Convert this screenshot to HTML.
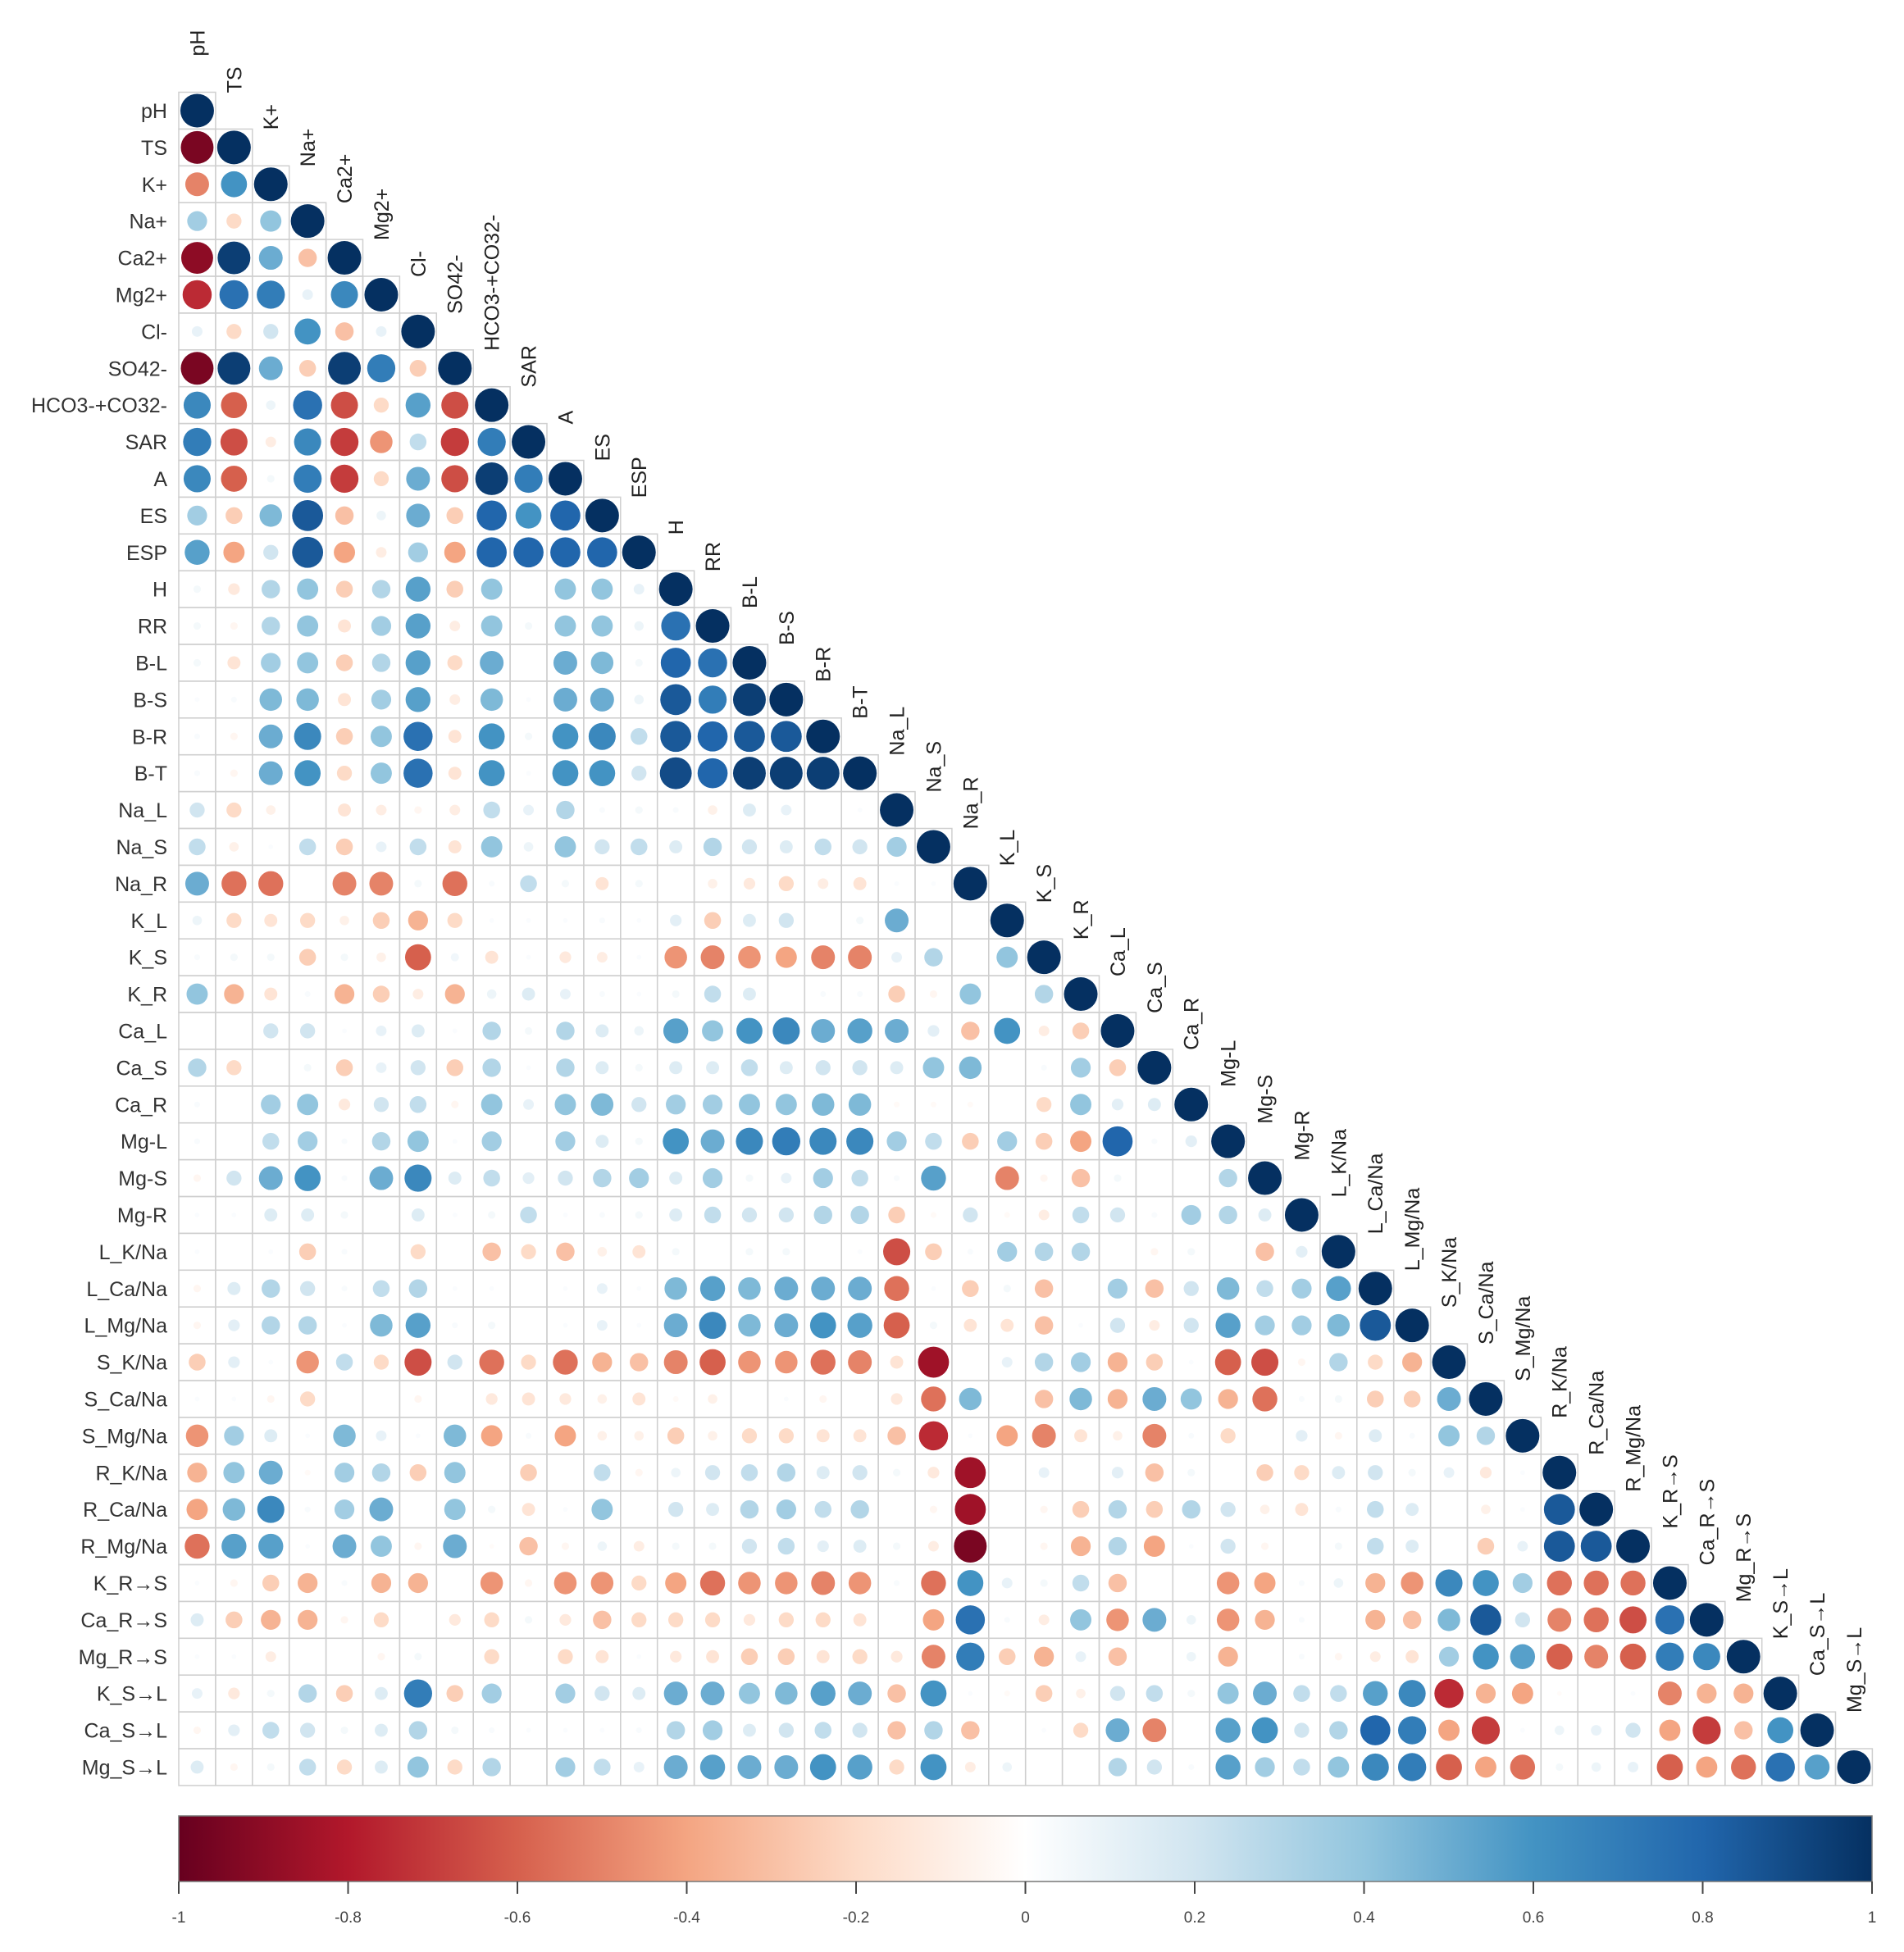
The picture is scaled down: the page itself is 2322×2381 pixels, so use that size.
<!DOCTYPE html>
<html><head><meta charset="utf-8"><style>
html,body{margin:0;padding:0;background:#fff;}
svg{display:block;font-family:"Liberation Sans",Arial,sans-serif;}
</style></head><body>
<svg id="chart" width="2322" height="2381" viewBox="0 0 2322 2381" xmlns="http://www.w3.org/2000/svg">
<rect width="2322" height="2381" fill="#fff"/>
<g id="grid"></g>
<g id="circles"></g>
<g id="rowlabels"></g>
<g id="collabels"></g>
<g id="colorbar"></g>
</svg>
<script>
const variables = ["pH","TS","K+","Na+","Ca2+","Mg2+","Cl-","SO42-","HCO3-+CO32-","SAR","A","ES","ESP","H","RR","B-L","B-S","B-R","B-T","Na_L","Na_S","Na_R","K_L","K_S","K_R","Ca_L","Ca_S","Ca_R","Mg-L","Mg-S","Mg-R","L_K/Na","L_Ca/Na","L_Mg/Na","S_K/Na","S_Ca/Na","S_Mg/Na","R_K/Na","R_Ca/Na","R_Mg/Na","K_R→S","Ca_R→S","Mg_R→S","K_S→L","Ca_S→L","Mg_S→L"];
const r0=[];
const r1=[-0.95];
const r2=[-0.5,0.6];
const r3=[0.35,-0.2,0.4];
const r4=[-0.9,0.95,0.5,-0.3];
const r5=[-0.75,0.75,0.7,0.1,0.65];
const r6=[0.1,-0.2,0.2,0.6,-0.3,0.1];
const r7=[-0.95,0.95,0.5,-0.25,0.95,0.7,-0.25];
const r8=[0.65,-0.6,0.08,0.75,-0.65,-0.2,0.55,-0.65];
const r9=[0.7,-0.65,-0.1,0.65,-0.7,-0.45,0.25,-0.7,0.7];
const r10=[0.65,-0.6,0.05,0.7,-0.7,-0.2,0.5,-0.65,0.95,0.7];
const r11=[0.35,-0.25,0.45,0.85,-0.3,0.08,0.5,-0.25,0.8,0.6,0.8];
const r12=[0.55,-0.4,0.2,0.85,-0.4,-0.1,0.35,-0.4,0.8,0.8,0.8,0.8];
const r13=[0.05,-0.12,0.3,0.4,-0.25,0.3,0.55,-0.25,0.4,0,0.4,0.4,0.1];
const r14=[0.05,-0.05,0.3,0.4,-0.15,0.35,0.55,-0.1,0.4,0.05,0.4,0.4,0.08,0.75];
const r15=[0.05,-0.15,0.35,0.4,-0.25,0.3,0.55,-0.2,0.5,0,0.5,0.45,0.05,0.8,0.75];
const r16=[0.02,0.03,0.45,0.45,-0.15,0.35,0.55,-0.1,0.45,0.02,0.5,0.5,0.08,0.85,0.7,0.95];
const r17=[0.03,-0.05,0.5,0.65,-0.25,0.4,0.75,-0.15,0.6,0.05,0.6,0.65,0.25,0.85,0.8,0.85,0.85];
const r18=[0.03,-0.05,0.5,0.6,-0.2,0.4,0.75,-0.15,0.6,0.02,0.6,0.6,0.2,0.9,0.8,0.95,0.95,0.95];
const r19=[0.2,-0.2,-0.08,0,-0.15,-0.1,-0.05,-0.1,0.25,0.1,0.3,0.03,0.05,0.03,-0.08,0.15,0.1,0,0.02];
const r20=[0.25,-0.08,0.02,0.25,-0.25,0.1,0.25,-0.15,0.4,0.08,0.4,0.2,0.25,0.15,0.3,0.2,0.15,0.25,0.2,0.35];
const r21=[0.5,-0.55,-0.55,0,-0.5,-0.5,0.05,-0.55,0.03,0.25,0.05,-0.15,0.05,0,-0.08,-0.12,-0.2,-0.1,-0.15,0.02,0.02];
const r22=[0.08,-0.2,-0.15,-0.2,-0.08,-0.25,-0.35,-0.2,0.02,0.02,0.02,0.03,0.02,0.12,-0.25,0.15,0.2,0,0.05,0.5,0,0];
const r23=[0.03,0.05,0.05,-0.25,0.05,-0.08,-0.6,0.06,-0.15,0.02,-0.12,-0.1,0.02,-0.45,-0.5,-0.45,-0.4,-0.5,-0.5,0.1,0.3,0,0.4];
const r24=[0.4,-0.35,-0.15,0.03,-0.35,-0.25,-0.1,-0.35,0.08,0.15,0.1,0.03,0.02,0.05,0.25,0.15,0,0.03,0.03,-0.25,-0.05,0.4,0,0.3];
const r25=[0,0,0.2,0.2,0.02,0.1,0.15,0.02,0.3,0.05,0.3,0.15,0.08,0.55,0.4,0.6,0.65,0.5,0.55,0.5,0.12,-0.3,0.6,-0.1,-0.25];
const r26=[0.3,-0.2,0,0.05,-0.25,0.1,0.2,-0.25,0.3,0.02,0.3,0.15,0.05,0.15,0.15,0.25,0.15,0.2,0.2,0.15,0.4,0.45,0,0.03,0.35,-0.25];
const r27=[0.03,0,0.35,0.4,-0.12,0.2,0.25,-0.05,0.4,0.1,0.4,0.45,0.2,0.35,0.35,0.4,0.4,0.45,0.45,-0.03,-0.03,-0.03,0,-0.2,0.4,0.12,0.15];
const r28=[0.03,0,0.25,0.35,0.03,0.3,0.4,0.02,0.35,0,0.35,0.15,0.05,0.6,0.5,0.65,0.7,0.65,0.65,0.35,0.25,-0.25,0.35,-0.25,-0.4,0.8,0.03,0.12];
const r29=[-0.05,0.2,0.5,0.6,0.03,0.5,0.65,0.15,0.25,0.12,0.2,0.3,0.35,0.15,0.35,0.05,0.1,0.35,0.25,0.03,0.55,0,-0.5,-0.05,-0.3,0.05,0,0,0.3];
const r30=[0.02,0.02,0.15,0.15,0.05,0,0.15,0.02,0.05,0.25,0.02,0.03,0.05,0.15,0.25,0.2,0.2,0.3,0.3,-0.25,-0.03,0.2,-0.03,-0.1,0.25,0.2,0.03,0.35,0.3,0.15];
const r31=[0.02,0,0.02,-0.25,0.03,0,-0.2,0,-0.3,-0.2,-0.3,-0.08,-0.15,0.05,0,0.05,0.05,0,0.02,-0.65,-0.25,0.03,0.35,0.3,0.3,0,-0.05,0.05,0,-0.3,0.12];
const r32=[-0.05,0.15,0.3,0.2,0.03,0.25,0.3,0.02,0.02,0,0.02,0.1,0.02,0.45,0.55,0.45,0.5,0.5,0.5,-0.55,0.02,-0.25,0.05,-0.3,0,0.35,-0.3,0.2,0.45,0.25,0.35,0.55];
const r33=[-0.05,0.12,0.3,0.3,0.02,0.45,0.55,0.03,0.05,0,0.02,0.1,0.02,0.5,0.65,0.45,0.5,0.6,0.55,-0.6,0.05,-0.15,-0.15,-0.3,0.02,0.2,-0.1,0.2,0.55,0.35,0.35,0.45,0.85];
const r34=[-0.25,0.12,0.02,-0.45,0.25,-0.2,-0.65,0.2,-0.55,-0.2,-0.55,-0.35,-0.3,-0.5,-0.6,-0.45,-0.45,-0.55,-0.5,-0.15,-0.85,0,0.1,0.3,0.35,-0.35,-0.25,0.02,-0.6,-0.65,-0.05,0.3,-0.2,-0.35];
const r35=[0.02,0.02,-0.05,-0.2,0,0,-0.05,0,-0.12,-0.15,-0.12,-0.08,-0.15,-0.03,-0.08,0,0.02,-0.05,0,-0.12,-0.55,0.45,0,-0.3,0.45,-0.35,0.5,0.4,-0.35,-0.55,0.03,0.05,-0.25,-0.25,0.5];
const r36=[-0.45,0.35,0.15,0.02,0.45,0.1,0.02,0.45,-0.4,0.03,-0.4,-0.08,-0.08,-0.25,-0.08,-0.2,-0.2,-0.15,-0.15,-0.3,-0.75,0.02,-0.4,-0.5,-0.15,-0.08,-0.5,0.03,-0.2,0,0.12,-0.05,0.15,0.03,0.4,0.3];
const r37=[-0.35,0.4,0.5,-0.03,0.35,0.3,-0.25,0.4,0,-0.25,0,0.25,-0.05,0.08,0.2,0.25,0.3,0.15,0.2,0.05,-0.12,-0.85,0,0.1,0,0.12,-0.3,0.05,0,-0.25,-0.2,0.15,0.2,0.05,0.1,-0.12,0.02];
const r38=[-0.4,0.45,0.65,0.03,0.35,0.5,0,0.4,0.05,-0.15,0.02,0.4,0,0.2,0.15,0.3,0.35,0.25,0.3,0,-0.05,-0.85,0,-0.05,-0.25,0.3,-0.25,0.3,0.2,-0.08,-0.15,0.03,0.25,0.15,0,-0.08,0.02,0.85];
const r39=[-0.55,0.55,0.55,0.02,0.5,0.4,-0.05,0.5,-0.02,-0.3,-0.05,0.08,-0.1,0.05,0.05,0.2,0.25,0.12,0.15,0.05,-0.1,-0.95,0,-0.05,-0.35,0.3,-0.4,0.02,0.2,-0.05,0,0.05,0.25,0.15,0,-0.25,0.1,0.85,0.85];
const r40=[0.02,-0.05,-0.25,-0.35,0.03,-0.35,-0.35,0,-0.45,-0.05,-0.45,-0.45,-0.2,-0.4,-0.55,-0.45,-0.45,-0.5,-0.45,0.03,-0.55,0.6,0.1,0.05,0.25,-0.3,0,0,-0.45,-0.4,0.03,0.08,-0.35,-0.45,0.65,0.6,0.35,-0.55,-0.55,-0.55];
const r41=[0.15,-0.25,-0.35,-0.35,-0.05,-0.2,0,-0.12,-0.2,0.05,-0.12,-0.3,-0.2,-0.2,-0.2,-0.12,-0.2,-0.2,-0.15,0,-0.4,0.75,0.03,-0.1,0.4,-0.45,0.5,0.08,-0.45,-0.35,0.03,0,-0.35,-0.3,0.45,0.85,0.2,-0.5,-0.55,-0.65,0.75];
const r42=[0.02,0.02,-0.1,0,0,-0.05,0.05,0,-0.2,0,-0.2,-0.15,0.02,-0.12,-0.15,-0.25,-0.25,-0.15,-0.2,-0.12,-0.5,0.7,-0.25,-0.35,0.1,-0.3,0,0.08,-0.35,0,0.03,-0.05,-0.1,-0.15,0.35,0.6,0.55,-0.6,-0.5,-0.6,0.7,0.65];
const r43=[0.1,-0.12,0.05,0.3,-0.25,0.15,0.7,-0.25,0.35,0,0.35,0.2,0.15,0.5,0.5,0.4,0.45,0.55,0.5,-0.3,0.6,0.02,-0.03,-0.25,-0.08,0.2,0.25,0.05,0.4,0.5,0.25,0.25,0.55,0.65,-0.75,-0.35,-0.4,-0.02,0,0.02,-0.5,-0.35,-0.35];
const r44=[-0.05,0.12,0.25,0.2,0.05,0.15,0.3,0.05,0.03,0.02,0.02,0.02,0.03,0.3,0.35,0.15,0.2,0.25,0.2,-0.3,0.3,-0.3,0,0.02,-0.2,0.5,-0.5,0,0.55,0.6,0.2,0.3,0.8,0.7,-0.4,-0.7,0.02,0.08,0.1,0.2,-0.4,-0.7,-0.3,0.6];
const r45=[0.15,-0.05,0.05,0.25,-0.2,0.15,0.4,-0.2,0.3,0,0.35,0.25,0.1,0.5,0.55,0.5,0.5,0.6,0.55,-0.2,0.6,-0.1,0.08,0,0,0.3,0.2,0.03,0.55,0.35,0.25,0.4,0.65,0.7,-0.6,-0.4,-0.55,0.05,0.08,0.1,-0.6,-0.4,-0.55,0.75,0.55];
const rows=[r0,r1,r2,r3,r4,r5,r6,r7,r8,r9,r10,r11,r12,r13,r14,r15,r16,r17,r18,r19,r20,r21,r22,r23,r24,r25,r26,r27,r28,r29,r30,r31,r32,r33,r34,r35,r36,r37,r38,r39,r40,r41,r42,r43,r44,r45];
const colorbarTicks=[-1,-0.8,-0.6,-0.4,-0.2,0,0.2,0.4,0.6,0.8,1];
const tickLabels=["-1","-0.8","-0.6","-0.4","-0.2","0","0.2","0.4","0.6","0.8","1"];

const NS="http://www.w3.org/2000/svg";
const N=variables.length;
const X0=218, Y0=112.5, CELL=44.9, RMAX=20.5;
const xOf=j=>X0+CELL*j+CELL/2;
const yOf=i=>Y0+CELL*i+CELL/2;
const stops=["#67001F","#B2182B","#D6604D","#F4A582","#FDDBC7","#FFFFFF","#D1E5F0","#92C5DE","#4393C3","#2166AC","#053061"];
function hex(h){return [parseInt(h.slice(1,3),16),parseInt(h.slice(3,5),16),parseInt(h.slice(5,7),16)];}
function colorOf(v){
  const t=(Math.max(-1,Math.min(1,v))+1)/2*10;
  const k=Math.min(9,Math.floor(t)),f=t-k;
  const a=hex(stops[k]),b=hex(stops[k+1]);
  return "rgb("+a.map((c,i)=>Math.round(c+(b[i]-c)*f)).join(",")+")";
}
function mk(tag,attrs,parent){const e=document.createElementNS(NS,tag);for(const k in attrs)e.setAttribute(k,attrs[k]);parent.appendChild(e);return e;}
const gGrid=document.getElementById("grid"),gC=document.getElementById("circles"),gR=document.getElementById("rowlabels"),gCol=document.getElementById("collabels"),gB=document.getElementById("colorbar");

for(let i=0;i<N;i++){
  for(let j=0;j<=i;j++){
    const cell=mk("rect",{x:X0+CELL*j,y:Y0+CELL*i,width:CELL,height:CELL,fill:"none",stroke:"#cfcfcf","stroke-width":1.5},gGrid);
    
    
    const v=(j===i)?1:rows[i][j];
    const rad=RMAX*Math.sqrt(Math.abs(v));
    if(rad<0.5)continue;
    const c=mk("circle",{cx:xOf(j),cy:yOf(i),r:rad,fill:colorOf(v)},gC);
    
    
  }
}
for(let i=0;i<N;i++){
  const t=mk("text",{x:X0-14,y:yOf(i)+9,"text-anchor":"end","font-size":25,fill:"#333"},gR);
  t.textContent=variables[i];
  
  
  const cx=xOf(i)+9, top=Y0+CELL*i-44;
  const u=mk("text",{x:cx,y:top,"font-size":25,fill:"#222",transform:"rotate(-90 "+cx+" "+top+")"},gCol);
  u.textContent=variables[i];
  
  
}
// colorbar
const BX0=218,BX1=2283,BY0=2215,BY1=2295;
const bx=v=>BX0+(v+1)/2*(BX1-BX0);
const defs=mk("defs",{},gB);
const lg=mk("linearGradient",{id:"rdbu",x1:"0",x2:"1",y1:"0",y2:"0"},defs);
stops.forEach((s,k)=>mk("stop",{offset:(k/10),"stop-color":s},lg));
const bar=mk("rect",{x:BX0,y:BY0,width:BX1-BX0,height:BY1-BY0,fill:"url(#rdbu)",stroke:"#777","stroke-width":1.5},gB);


colorbarTicks.forEach((v,k)=>{
  const tk=mk("line",{x1:bx(v),x2:bx(v),y1:BY1,y2:BY1+15,stroke:"#444","stroke-width":2},gB);
  
  
  const tl=mk("text",{x:bx(v),y:BY1+50,"text-anchor":"middle","font-size":19,fill:"#444"},gB);
  tl.textContent=tickLabels[k];
  
  
});
</script>
</body></html>
